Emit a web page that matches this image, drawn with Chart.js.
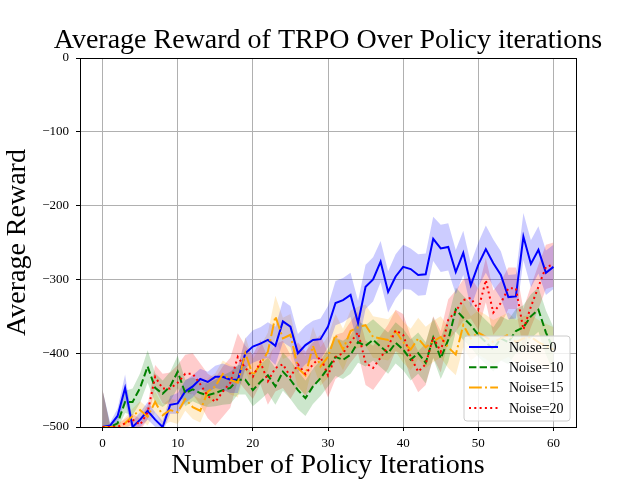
<!DOCTYPE html>
<html><head><meta charset="utf-8">
<script src="https://cdn.jsdelivr.net/npm/chart.js@4.4.1/dist/chart.umd.min.js"></script>
<style>html,body{margin:0;padding:0;background:#fff}</style>
</head><body>
<canvas id="c" width="640" height="480"></canvas>
<script>
const iterations = [0,1,2,3,4,5,6,7,8,9,10,11,12,13,14,15,16,17,18,19,20,21,22,23,24,25,26,27,28,29,30,31,32,33,34,35,36,37,38,39,40,41,42,43,44,45,46,47,48,49,50,51,52,53,54,55,56,57,58,59,60];
const seriesNames = ["Noise=0","Noise=10","Noise=15","Noise=20"];
const xTickValues = [0,10,20,30,40,50,60];
const yTickValues = [-500,-400,-300,-200,-100,0];
const chartTitle = 'Average Reward of TRPO Over Policy iterations';

const noise0 = [-500,-498,-485,-447,-500,-490,-478,-490,-500,-470,
 -468,-452,-445,-435,-439,-432,-432,-436,-436,-400,
 -391,-387,-382,-390,-357,-364,-400,-389,-382,-381,
 -364,-332,-328,-321,-359,-310,-300,-276,-317,-296,
 -283,-286,-294,-293,-245,-258,-256,-290,-264,-308,
 -280,-259,-278,-294,-324,-323,-242,-279,-260,-291,
 -283];
const noise10 = [-500,-500,-495,-466,-466,-447,-418,-447,-455,-445,
 -425,-454,-449,-454,-457,-454,-450,-447,-436,-436,
 -450,-439,-430,-445,-425,-436,-450,-461,-445,-434,
 -420,-405,-409,-402,-385,-390,-382,-391,-400,-386,
 -395,-409,-400,-413,-379,-407,-382,-341,-352,-362,
 -375,-385,-395,-380,-385,-370,-365,-350,-341,-372,
 -395];
const noise15 = [-500,-500,-500,-495,-485,-477,-486,-466,-484,-477,
 -480,-462,-473,-478,-452,-445,-428,-436,-440,-400,
 -430,-415,-398,-350,-380,-375,-420,-430,-390,-418,
 -405,-375,-395,-370,-365,-362,-378,-380,-382,-370,
 -385,-395,-380,-392,-384,-378,-392,-402,-362,-380,
 -372,-378,-385,-380,-375,-385,-380,-378,-385,-390,
 -395];
const noise20 = [-500,-500,-500,-495,-490,-497,-480,-432,-448,-448,
 -440,-428,-428,-442,-458,-466,-452,-440,-405,-420,
 -432,-412,-438,-420,-415,-432,-415,-428,-415,-405,
 -430,-405,-400,-385,-372,-413,-420,-406,-391,-369,
 -375,-405,-425,-415,-378,-398,-355,-343,-328,-325,
 -341,-301,-345,-332,-312,-312,-368,-337,-310,-283,
 -280];

const spread0 = [50,4,10,18,8,10,12,10,8,12,
 14,15,15,14,14,15,18,18,18,20,
 22,22,24,26,28,28,26,26,26,28,
 28,30,30,30,30,30,30,28,28,30,
 30,28,28,28,30,32,32,30,30,30,
 30,32,32,32,30,30,32,32,32,30,
 30];
const spread10 = [50,4,8,15,18,20,22,20,18,20,
 22,18,16,16,16,18,20,22,20,20,
 22,24,24,25,26,26,26,24,24,24,
 25,26,26,26,28,28,28,28,28,28,
 28,28,28,28,28,28,30,30,30,30,
 30,30,30,30,30,30,30,30,30,30,
 30];
const spread15 = [50,2,4,8,10,12,12,14,14,16,
 16,16,16,16,18,18,18,20,20,22,
 22,24,26,28,28,28,28,26,26,26,
 28,28,28,28,28,28,28,28,28,28,
 28,28,28,28,28,28,28,28,30,30,
 30,30,30,30,30,30,30,30,30,30,
 30];
const spread20 = [50,2,4,6,8,8,10,16,20,22,
 24,26,28,28,30,32,34,34,32,30,
 30,30,32,32,32,30,30,30,30,30,
 30,30,28,28,28,30,30,30,30,28,
 28,28,28,28,28,28,28,28,28,28,
 28,30,30,30,28,28,28,28,30,30,
 30];

const means = [noise0, noise10, noise15, noise20];
const spreads = [spread0, spread10, spread15, spread20];
const lineColors = ["#0000ff","#008000","#ffa500","#ff0000"];
const bandColors = ["rgba(0,0,255,0.2)","rgba(0,128,0,0.2)","rgba(255,165,0,0.2)","rgba(255,0,0,0.2)"];
const dashes = [[], [7.4,3.2], [12.8,3.2,2,3.2], [2,3.3]];

const FONT = "'Liberation Serif','Times New Roman',serif";
const datasets = [];
means.forEach((m, k) => {
  const s = spreads[k];
  datasets.push({
    label: seriesNames[k] + " upper",
    data: iterations.map((x, i) => ({x, y: m[i] + s[i]})),
    fill: '+1', backgroundColor: bandColors[k], borderWidth: 0, pointRadius: 0, order: 20 + k
  });
  datasets.push({
    label: seriesNames[k] + " lower",
    data: iterations.map((x, i) => ({x, y: m[i] - s[i]})),
    fill: false, borderWidth: 0, pointRadius: 0, order: 20 + k
  });
  datasets.push({
    label: seriesNames[k],
    data: iterations.map((x, i) => ({x, y: m[i]})),
    borderColor: lineColors[k], borderDash: dashes[k], borderWidth: 2,
    pointRadius: 0, fill: false, tension: 0, order: 4 - k, borderCapStyle: 'butt'
  });
});

const framePlugin = {
  id: 'frame',
  afterDraw(chart) {
    const {ctx, chartArea: a} = chart;
    ctx.save();
    ctx.strokeStyle = '#000'; ctx.lineWidth = 1;
    ctx.strokeRect(Math.round(a.left) + 0.5, Math.round(a.top) + 0.5, Math.round(a.right - a.left), Math.round(a.bottom - a.top));
    // title
    ctx.fillStyle = '#000';
    ctx.font = "28px " + FONT;
    ctx.textAlign = 'center'; ctx.textBaseline = 'alphabetic';
    ctx.fillText(chartTitle, (a.left + a.right) / 2, 48);
    // legend
    ctx.textAlign = 'left';
    const w = 106, h = 85;
    const x0 = a.right - w - 6, y0 = a.bottom - h - 6;
    ctx.beginPath();
    const r = 3;
    ctx.moveTo(x0 + r, y0); ctx.lineTo(x0 + w - r, y0); ctx.arcTo(x0 + w, y0, x0 + w, y0 + r, r);
    ctx.lineTo(x0 + w, y0 + h - r); ctx.arcTo(x0 + w, y0 + h, x0 + w - r, y0 + h, r);
    ctx.lineTo(x0 + r, y0 + h); ctx.arcTo(x0, y0 + h, x0, y0 + h - r, r);
    ctx.lineTo(x0, y0 + r); ctx.arcTo(x0, y0, x0 + r, y0, r);
    ctx.closePath();
    ctx.fillStyle = 'rgba(255,255,255,0.8)'; ctx.fill();
    ctx.strokeStyle = '#cccccc'; ctx.lineWidth = 1; ctx.stroke();
    ctx.font = "14px " + FONT;
    ctx.textBaseline = 'middle';
    seriesNames.forEach((name, k) => {
      const yy = y0 + 11 + k * 20.3;
      ctx.beginPath();
      ctx.setLineDash(dashes[k]);
      ctx.strokeStyle = lineColors[k]; ctx.lineWidth = 2; ctx.lineCap = 'butt';
      ctx.moveTo(x0 + 5, yy); ctx.lineTo(x0 + 34, yy); ctx.stroke();
      ctx.setLineDash([]);
      ctx.fillStyle = '#000';
      ctx.fillText(name, x0 + 45, yy + 1);
    });
    ctx.restore();
  }
};

new Chart(document.getElementById('c'), {
  type: 'line',
  data: { datasets },
  options: {
    responsive: false, animation: false, devicePixelRatio: 1,
    layout: { padding: { left: 0, right: 64, top: 58, bottom: 0 } },
    plugins: {
      legend: { display: false },
      tooltip: { enabled: false },
      title: { display: false }
    },
    scales: {
      x: {
        type: 'linear', min: -3, max: 63,
        afterBuildTicks: s => { s.ticks = xTickValues.map(v => ({value: v})); },
        afterFit: s => { s.height = 53; },
        ticks: { color: '#000', font: { family: FONT, size: 13 }, padding: 5, maxRotation: 0 },
        grid: { color: '#b0b0b0', lineWidth: 1, tickLength: 4, tickColor: '#000', drawTicks: true },
        border: { display: true, color: '#000', width: 1 },
        title: { display: true, text: 'Number of Policy Iterations', color: '#000',
          font: { family: FONT, size: 28, weight: 'normal' }, padding: { top: 0, bottom: -2 } }
      },
      y: {
        type: 'linear', min: -500, max: 0,
        afterBuildTicks: s => { s.ticks = yTickValues.map(v => ({value: v})); },
        afterFit: s => { s.width = 80; },
        ticks: { color: '#000', font: { family: FONT, size: 13 }, padding: 7,
          callback: v => String(v).replace('-', '\u2212') },
        grid: { color: '#b0b0b0', lineWidth: 1, tickLength: 4, tickColor: '#000', drawTicks: true },
        border: { display: true, color: '#000', width: 1 },
        title: { display: true, text: 'Average Reward', color: '#000',
          font: { family: FONT, size: 28, weight: 'normal' }, padding: { top: 1, bottom: 0 } }
      }
    }
  },
  plugins: [framePlugin]
});
</script>
</body></html>
